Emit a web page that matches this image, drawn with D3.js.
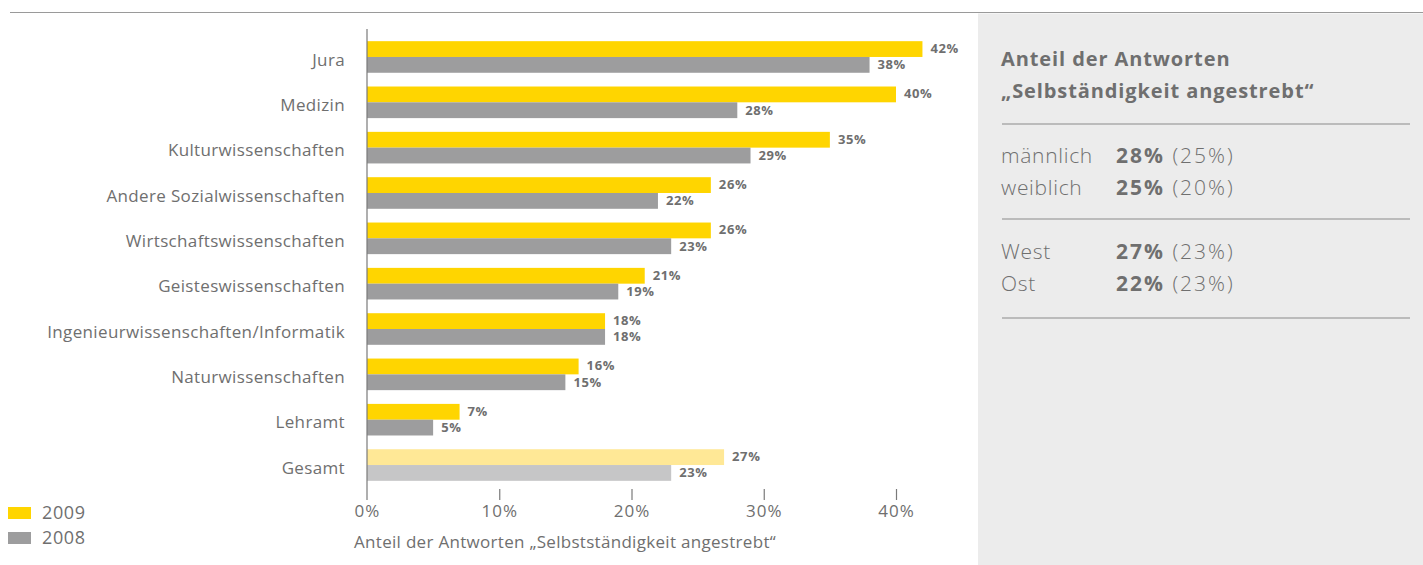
<!DOCTYPE html>
<html>
<head>
<meta charset="utf-8">
<script src="https://cdn.jsdelivr.net/npm/d3@7"></script>
<style>
  html, body { margin: 0; padding: 0; background: #fff; }
  svg { display: block; font-family: "Open Sans", Roboto, sans-serif; }
</style>
</head>
<body>
<svg id="chart" width="1423" height="565"></svg>
<script>
// Share of answers "Selbstständigkeit angestrebt" by field of study
const categories = ["Jura", "Medizin", "Kulturwissenschaften", "Andere Sozialwissenschaften",
  "Wirtschaftswissenschaften", "Geisteswissenschaften", "Ingenieurwissenschaften/Informatik",
  "Naturwissenschaften", "Lehramt", "Gesamt"];
const values2009 = [42, 40, 35, 26, 26, 21, 18, 16, 7, 27];
const values2008 = [38, 28, 29, 22, 23, 19, 18, 15, 5, 23];
const xTicks = [0, 10, 20, 30, 40];
const seriesNames = ["2009", "2008"];

// Side panel: breakdown by gender and region (2009 value, 2008 in brackets)
const panelTitle = ["Anteil der Antworten", "„Selbständigkeit angestrebt“"];
const panelGroups = [
  [{ label: "männlich", now: 28, prev: 25 }, { label: "weiblich", now: 25, prev: 20 }],
  [{ label: "West", now: 27, prev: 23 }, { label: "Ost", now: 22, prev: 23 }]
];

const svg = d3.select("#chart");
const textGray = "#6f6f6f";
const col2009 = "#ffd500", col2008 = "#9d9d9e";
const col2009Total = "#ffe896", col2008Total = "#c6c6c7";

const x = d3.scaleLinear().domain([0, 40]).range([367, 896]);
const y = d3.scaleBand().domain(categories).range([34.3, 487.7]);
const barH = 15.8;

// top rule
svg.append("line").attr("x1", 10).attr("x2", 1423).attr("y1", 12.5).attr("y2", 12.5)
  .attr("stroke", "#9a9a9a").attr("stroke-width", 1.2);

// grey side panel
svg.append("rect").attr("x", 978).attr("y", 13.5).attr("width", 445).attr("height", 552)
  .attr("fill", "#ececec");

// bars
const groups = svg.append("g").selectAll("g").data(categories).join("g")
  .attr("transform", d => `translate(0,${y(d) + y.bandwidth() / 2})`);

groups.append("rect")
  .attr("x", x(0)).attr("y", -barH)
  .attr("width", (d, i) => x(values2009[i]) - x(0)).attr("height", barH)
  .attr("fill", d => d === "Gesamt" ? col2009Total : col2009);
groups.append("rect")
  .attr("x", x(0)).attr("y", 0)
  .attr("width", (d, i) => x(values2008[i]) - x(0)).attr("height", barH)
  .attr("fill", d => d === "Gesamt" ? col2008Total : col2008);

// value labels
const valueLabel = sel => sel
  .attr("dominant-baseline", "middle")
  .attr("font-size", 13).attr("font-weight", "bold").attr("fill", textGray)
  .attr("letter-spacing", 0.6);
groups.append("text")
  .attr("x", (d, i) => x(values2009[i]) + 8).attr("y", -barH / 2 + 0.5)
  .call(valueLabel)
  .text((d, i) => values2009[i] + "%");
groups.append("text")
  .attr("x", (d, i) => x(values2008[i]) + 8).attr("y", barH / 2 + 1)
  .call(valueLabel)
  .text((d, i) => values2008[i] + "%");

// category labels
groups.append("text")
  .attr("x", 345).attr("y", 4)
  .attr("text-anchor", "end").attr("dominant-baseline", "middle")
  .attr("font-size", 17).attr("fill", textGray).attr("letter-spacing", 0.35)
  .text(d => d);

// vertical axis line
svg.append("line").attr("x1", x(0)).attr("x2", x(0)).attr("y1", 29).attr("y2", 500)
  .attr("stroke", "#7a7a7a").attr("stroke-width", 1.2);

// x axis
const xAxis = d3.axisBottom(x).tickValues(xTicks).tickFormat(d => d + "%")
  .tickSize(11).tickPadding(5);
const ax = svg.append("g").attr("transform", "translate(0,489)").call(xAxis);
ax.select(".domain").remove();
ax.selectAll(".tick line").attr("stroke", "#7a7a7a").attr("stroke-width", 1.2)
  .attr("opacity", d => d === 0 ? 0 : 1);
ax.selectAll(".tick text").attr("font-size", 17).attr("fill", textGray)
  .attr("font-family", "'Open Sans', sans-serif").attr("letter-spacing", 1);

svg.append("text").attr("x", 354).attr("y", 543)
  .attr("dominant-baseline", "middle").attr("font-size", 17).attr("fill", textGray)
  .attr("letter-spacing", 0.3)
  .text("Anteil der Antworten „Selbstständigkeit angestrebt“");

// legend
const legend = svg.append("g").selectAll("g").data(seriesNames).join("g")
  .attr("transform", (d, i) => `translate(8,${507 + i * 25})`);
legend.append("rect").attr("width", 23).attr("height", 12)
  .attr("fill", (d, i) => i === 0 ? col2009 : col2008);
legend.append("text").attr("x", 34).attr("y", 7).attr("dominant-baseline", "middle")
  .attr("font-size", 18).attr("fill", textGray).attr("letter-spacing", 0.6).text(d => d);

// side panel content
const px = 1001, pv = 1116;
svg.append("text").selectAll("tspan").data(panelTitle).join("tspan")
  .attr("x", px).attr("y", (d, i) => 61 + i * 32)
  .attr("dominant-baseline", "middle")
  .attr("font-size", 20).attr("font-weight", "bold").attr("fill", textGray)
  .attr("letter-spacing", 0.9)
  .text(d => d);

const ruleYs = [124, 219, 318];
ruleYs.forEach(ry => svg.append("line").attr("x1", 1002).attr("x2", 1410)
  .attr("y1", ry).attr("y2", ry).attr("stroke", "#8a8a8a").attr("stroke-width", 1));

const rowY = [[157, 189], [253, 285]];
panelGroups.forEach((grp, gi) => {
  grp.forEach((row, ri) => {
    const yy = rowY[gi][ri];
    svg.append("text").attr("x", px).attr("y", yy).attr("dominant-baseline", "middle")
      .attr("font-size", 21).attr("font-weight", 300).attr("fill", textGray)
      .attr("letter-spacing", 0.7).text(row.label);
    const t = svg.append("text").attr("x", pv).attr("y", yy).attr("dominant-baseline", "middle")
      .attr("font-size", 21).attr("fill", textGray).attr("letter-spacing", 2);
    t.append("tspan").attr("font-weight", "bold").text(row.now + "%");
    t.append("tspan").attr("font-weight", 300).text(" (" + row.prev + "%)");
  });
});
</script>
</body>
</html>
